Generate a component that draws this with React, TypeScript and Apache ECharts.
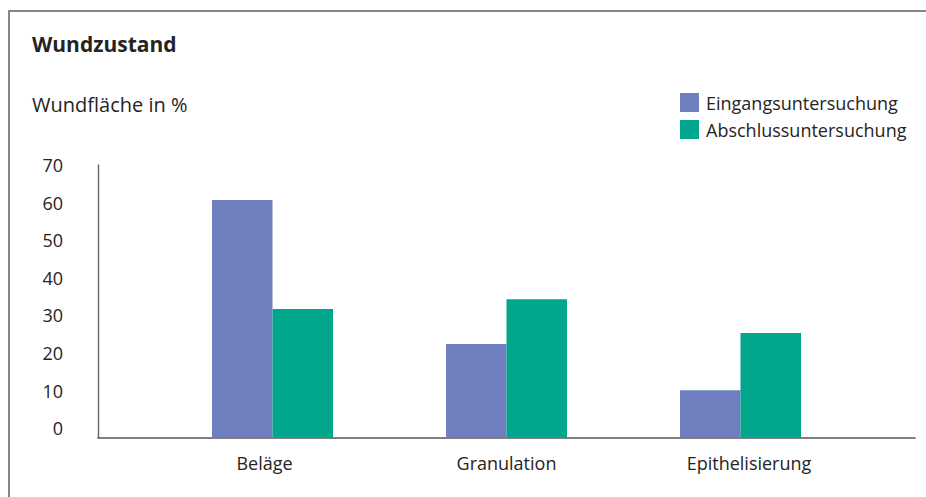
import React, { useEffect, useRef } from "react";
import * as echarts from "echarts";

const categories = ["Beläge", "Granulation", "Epithelisierung"];
const eingangsuntersuchung = [60.7, 22.4, 10.1];
const abschlussuntersuchung = [31.7, 34.3, 25.3];
const seriesNames = ["Eingangsuntersuchung", "Abschlussuntersuchung"];
const titleText = "Wundzustand";
const yName = "Wundfläche in %";
const labelShift = [16, 0, -17];

const FONT = "'Open Sans', 'Noto Sans', sans-serif";
const TXT = "#262324";

export default function App() {
  const ref = useRef<HTMLDivElement>(null);
  useEffect(() => {
    if (!ref.current) return;
    const chart = echarts.init(ref.current, null, { renderer: "svg" });
    chart.setOption({
      animation: false,
      textStyle: { fontFamily: FONT, color: TXT },
      legend: {
        orient: "vertical",
        left: 680,
        top: 93,
        padding: 0,
        itemWidth: 19,
        itemHeight: 19,
        itemGap: 8,
        icon: "rect",
        textStyle: { fontFamily: FONT, fontSize: 18, color: TXT, padding: [0, 0, 0, 2] },
        data: seriesNames,
      },
      grid: [
        { left: 155.5, right: 68.5, top: 165, bottom: 59.5 },
        { left: 98, right: 11, top: 165, bottom: 59.5 },
      ],
      xAxis: [
        {
          type: "category",
          gridIndex: 0,
          data: categories.map((c, i) => ({
            value: c,
            textStyle: { padding: labelShift[i] >= 0 ? [0, labelShift[i], 0, 0] : [0, 0, 0, -labelShift[i]] },
          })),
          axisLine: { show: false },
          axisTick: { show: false },
          axisLabel: { fontFamily: FONT, fontSize: 18, color: TXT, margin: 16 },
        },
        {
          type: "value",
          gridIndex: 1,
          min: 0,
          max: 1,
          axisLine: { show: true, onZero: false, lineStyle: { color: "#555555", width: 1.6 } },
          axisTick: { show: false },
          axisLabel: { show: false },
          splitLine: { show: false },
        },
      ],
      yAxis: [
        {
          type: "value",
          gridIndex: 0,
          min: -2.5,
          max: 70,
          startValue: -2.5,
          splitNumber: 7,
          offset: 57.5,
          axisLine: { show: true, lineStyle: { color: "#666666", width: 1.4 } },
          axisTick: { show: false },
          splitLine: { show: false },
          axisLabel: {
            fontFamily: FONT,
            fontSize: 18,
            color: TXT,
            margin: 35,
            formatter: (v: number) => (v >= 0 && Math.abs(v % 10) < 1e-9 ? String(v) : ""),
          },
        },
        { type: "value", gridIndex: 1, show: false, min: 0, max: 1 },
      ],
      series: [
        {
          name: seriesNames[0],
          type: "bar",
          xAxisIndex: 0,
          yAxisIndex: 0,
          data: eingangsuntersuchung,
          barWidth: 60.5,
          barGap: "0%",
          itemStyle: { color: "#6F7FBF" },
        },
        {
          name: seriesNames[1],
          type: "bar",
          xAxisIndex: 0,
          yAxisIndex: 0,
          data: abschlussuntersuchung,
          barWidth: 60.5,
          barGap: "0%",
          itemStyle: { color: "#00A78D" },
        },
      ],
      graphic: [
        {
          type: "polyline",
          shape: { points: [[9, 497], [9, 11], [926, 11]] },
          style: { stroke: "#868686", lineWidth: 2, fill: "none" },
          silent: true,
        },
        {
          type: "text",
          x: 32,
          y: 44,
          style: {
            text: titleText,
            fontFamily: FONT,
            fontWeight: "bold",
            fontSize: 21,
            fill: TXT,
            verticalAlign: "middle",
          },
        },
        {
          type: "text",
          x: 32,
          y: 104,
          style: {
            text: yName,
            fontFamily: FONT,
            fontSize: 20,
            fill: TXT,
            verticalAlign: "middle",
          },
        },
      ],
    });
    return () => chart.dispose();
  }, []);
  return (
    <div
      ref={ref}
      style={{ position: "fixed", left: 0, top: 0, width: 926, height: 497, background: "#fff" }}
    />
  );
}
